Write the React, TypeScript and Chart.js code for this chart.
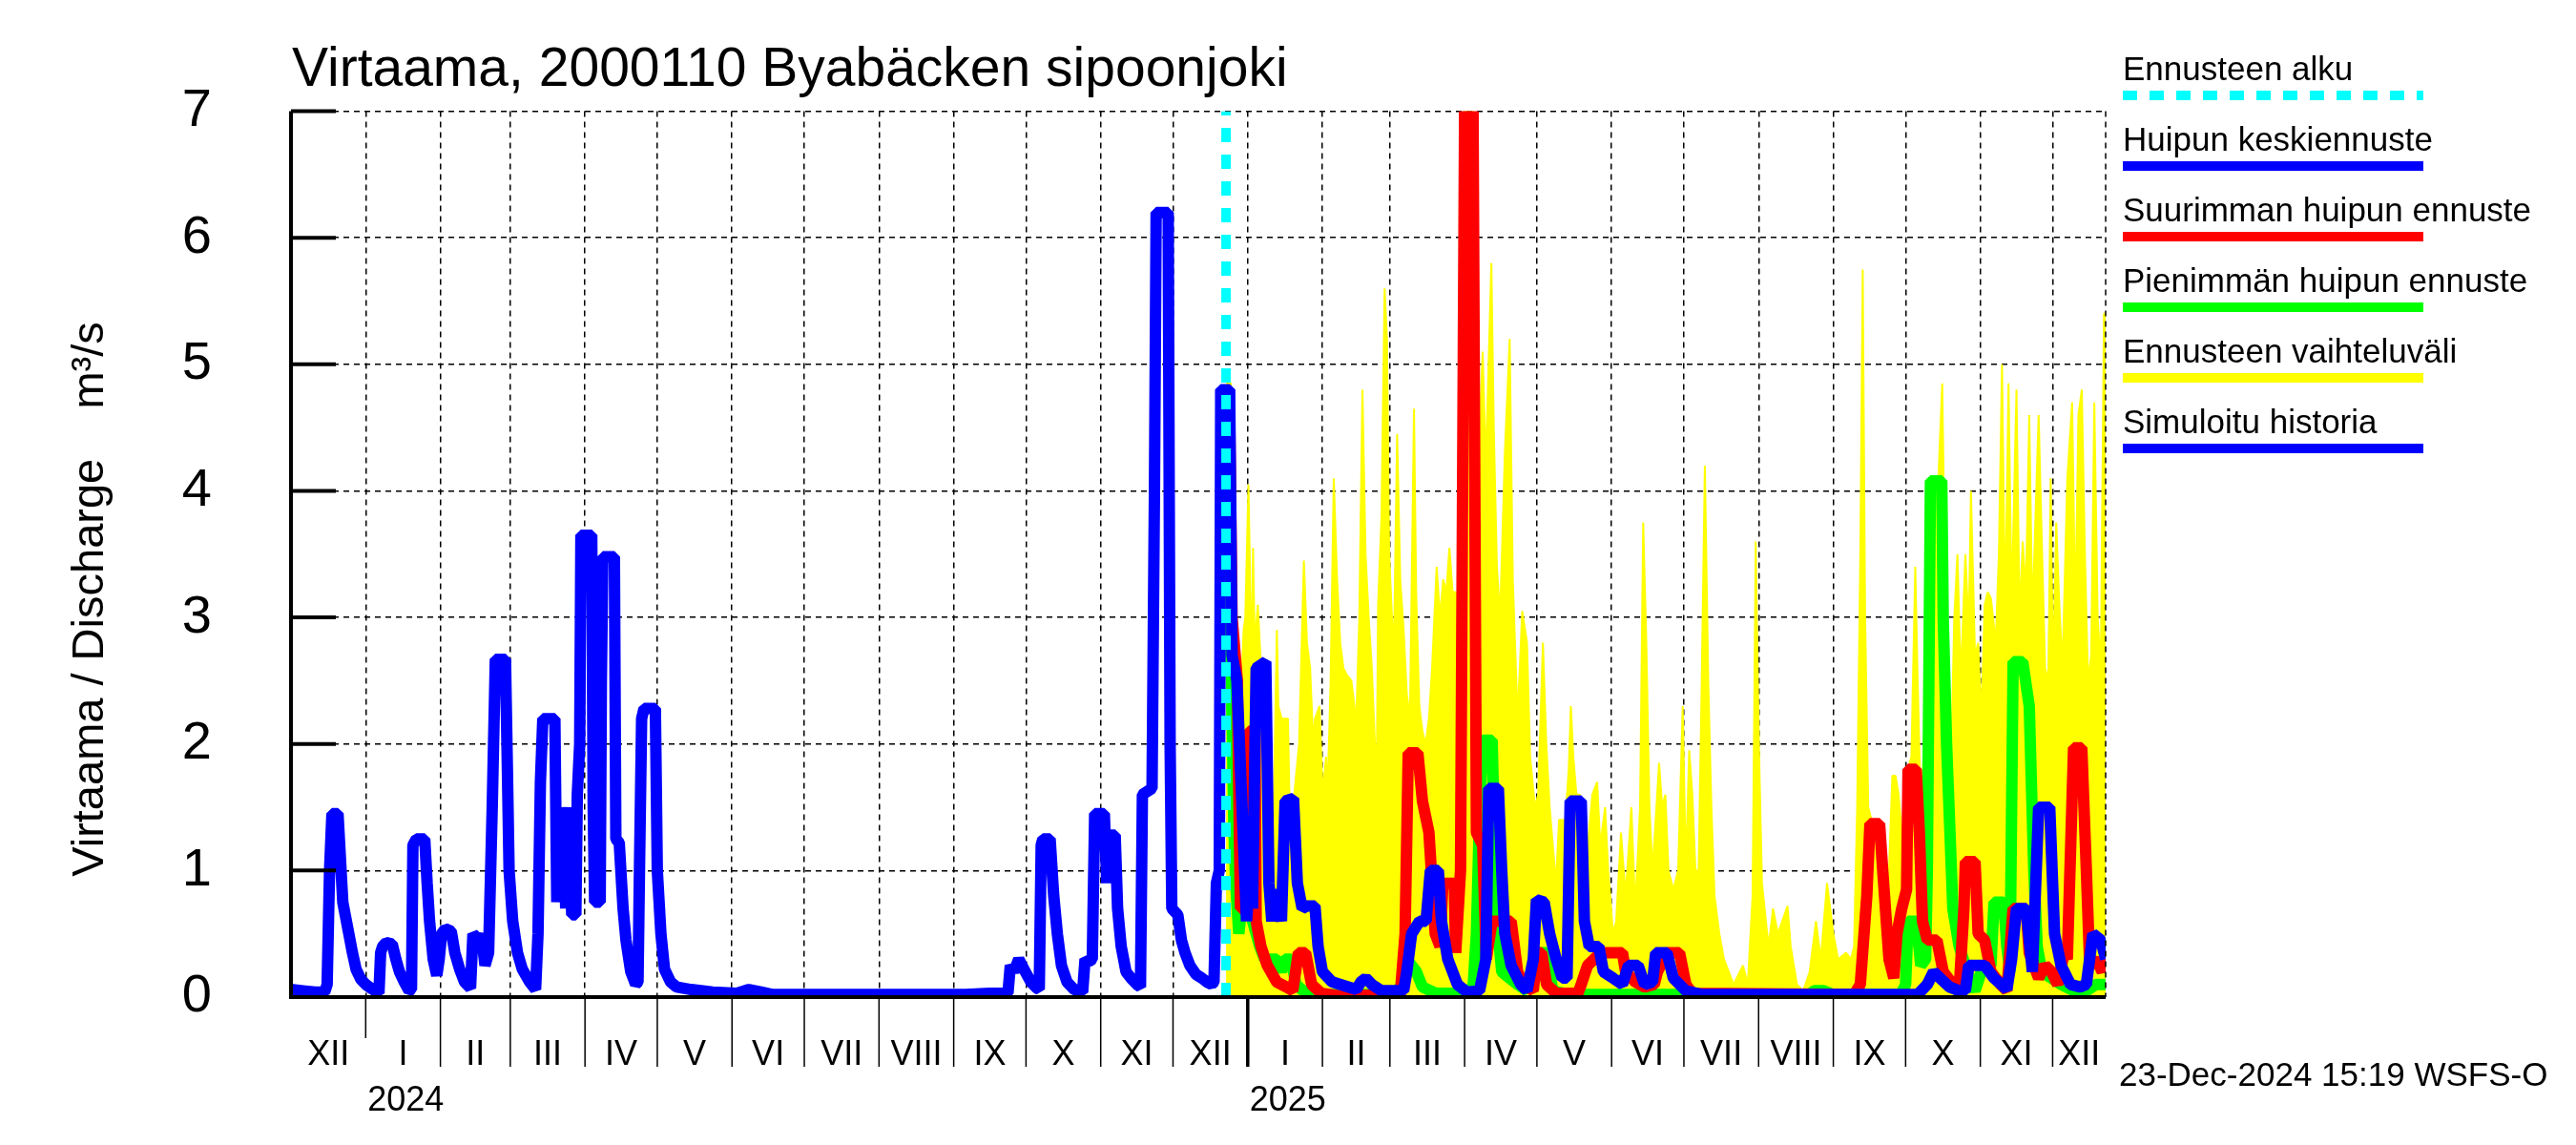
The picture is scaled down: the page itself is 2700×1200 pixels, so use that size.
import React, { useEffect, useRef } from 'react';
import { Chart, registerables } from 'chart.js';

Chart.register(...registerables);

const FONT = '"Liberation Sans", Arial, Helvetica, sans-serif';

// x values are days counted from 1 Dec 2023
const axisStart = 0;
const axisEnd = 753;
const forecastStart = 388;
const monthStarts = [31, 62, 91, 122, 152, 183, 213, 244, 275, 305, 336, 366, 397, 428, 456, 487, 517, 548, 578, 609, 640, 670, 701, 731];
const monthLabels = ['XII', 'I', 'II', 'III', 'IV', 'V', 'VI', 'VII', 'VIII', 'IX', 'X', 'XI', 'XII', 'I', 'II', 'III', 'IV', 'V', 'VI', 'VII', 'VIII', 'IX', 'X', 'XI', 'XII'];
const yearStarts = [31, 397];
const yearLabels = ['2024', '2025'];
const yTicks = [0, 1, 2, 3, 4, 5, 6, 7];

const titleText = 'Virtaama, 2000110 Byabäcken sipoonjoki';
const yTitleText = 'Virtaama / Discharge    m³/s';
const footerText = '23-Dec-2024 15:19 WSFS-O';
const legendLabels = ['Ennusteen alku', 'Huipun keskiennuste', 'Suurimman huipun ennuste', 'Pienimmän huipun ennuste', 'Ennusteen vaihteluväli', 'Simuloitu historia'];
const legendColors = ['#00ffff', '#0000ff', '#ff0000', '#00ff00', '#ffff00', '#0000ff'];

// Simuloitu historia
const history: [number, number][] = [
  [0, 0.06], [5, 0.05], [10, 0.04], [14, 0.04], [15, 0.1], [16, 1.0], [17, 1.45], [19.5, 1.45], [20.5, 1.1], [21.5, 0.75],
  [22.5, 0.65], [24, 0.5], [25.5, 0.35], [27, 0.22], [29, 0.14], [31, 0.1], [34, 0.06], [36.5, 0.03], [37.2, 0.35], [38, 0.4],
  [39.5, 0.43], [42, 0.42], [43.5, 0.3], [45, 0.2], [47, 0.12], [49, 0.05], [50, 0.06], [50.6, 1.2], [52, 1.25], [55.5, 1.25],
  [56.5, 0.9], [57.5, 0.6], [59, 0.3], [60.5, 0.17], [61.5, 0.3], [62.5, 0.5], [64, 0.54], [66.5, 0.52], [68, 0.35], [70, 0.22],
  [72, 0.12], [74.5, 0.07], [75.5, 0.5], [78, 0.45], [79, 0.5], [80.5, 0.25], [82, 0.35], [83.5, 1.5], [84.8, 2.67], [89, 2.67],
  [89.8, 1.8], [90.5, 1.0], [92, 0.6], [94, 0.35], [96, 0.22], [99, 0.12], [101.5, 0.06], [102.5, 0.5], [103.5, 1.7], [104.5, 2.2],
  [109.5, 2.2], [110.3, 0.75], [111, 1.5], [112, 0.75], [113, 1.5], [114, 0.7], [115.3, 1.5], [116.5, 0.65], [118.2, 0.65], [118.8, 1.6],
  [119.8, 2.0], [120.3, 3.65], [124.8, 3.65], [125.4, 1.5], [126, 0.75], [128.3, 0.75], [128.8, 2.5], [129.4, 3.48], [134.2, 3.48], [134.8, 1.25],
  [136.2, 1.22], [137.8, 0.7], [139, 0.45], [141, 0.2], [143, 0.1], [144, 0.12], [144.6, 1.0], [145.5, 2.2], [146.5, 2.28], [151.2, 2.28],
  [152, 1.0], [153.5, 0.5], [155, 0.22], [157.5, 0.12], [160, 0.08], [166, 0.06], [175, 0.04], [185, 0.03], [190, 0.06], [195, 0.04],
  [200, 0.02], [240, 0.02], [280, 0.02], [290, 0.03], [297.5, 0.03], [298.5, 0.25], [300, 0.2], [302, 0.3], [304.7, 0.2], [307, 0.12],
  [309.5, 0.07], [310.5, 0.06], [311.3, 1.2], [312, 1.25], [315, 1.25], [316.5, 0.8], [318, 0.5], [319.7, 0.25], [322, 0.12], [325, 0.06],
  [328.5, 0.04], [329.5, 0.3], [331, 0.28], [332.5, 0.3], [333.5, 1.45], [337.5, 1.45], [338.5, 0.9], [339.2, 1.28], [342, 1.28], [343, 0.7],
  [344.5, 0.4], [346.5, 0.2], [349, 0.14], [351, 0.1], [352.5, 0.08], [353.3, 1.6], [357.3, 1.65], [358.3, 4.0], [359, 6.2], [364, 6.2],
  [364.8, 2.0], [365.5, 0.7], [368, 0.65], [369.5, 0.45], [371, 0.35], [373, 0.25], [375.5, 0.18], [378, 0.15], [380, 0.12], [382, 0.1],
  [383, 0.12], [384, 0.9], [385.2, 1.0], [385.8, 4.8], [388, 4.8],
];

// Huipun keskiennuste
const meanForecast: [number, number][] = [
  [388, 4.8], [389.5, 4.8], [390.5, 2.7], [392.5, 2.5], [394, 1.8], [395.3, 1.2], [396.5, 0.6], [398, 1.0], [399, 0.7], [400.5, 2.6],
  [404.5, 2.65], [405.8, 0.9], [407, 0.6], [408.5, 0.85], [411, 0.6], [412.5, 1.55], [416, 1.57], [417.6, 0.9], [419.6, 0.7], [421.5, 0.72],
  [424.9, 0.72], [426.2, 0.4], [428, 0.2], [432, 0.12], [435.4, 0.1], [442, 0.06], [444, 0.12], [446, 0.15], [448.5, 0.1], [452.5, 0.05],
  [461.7, 0.05], [463, 0.2], [465, 0.5], [468.3, 0.6], [471, 0.6], [472.8, 1.0], [476.1, 1.0], [477.4, 0.6], [480, 0.3], [484, 0.1],
  [487.9, 0.04], [493.2, 0.05], [495.8, 0.3], [497, 1.65], [501, 1.65], [502.4, 1.0], [503.7, 0.5], [506.3, 0.25], [510.3, 0.1], [512.9, 0.05],
  [515.5, 0.3], [516.8, 0.77], [520, 0.75], [522.3, 0.5], [525, 0.3], [527.5, 0.15], [529.5, 0.15], [530.8, 1.55], [535.4, 1.55], [536.7, 0.6],
  [538.7, 0.4], [542.7, 0.4], [544.6, 0.2], [548.6, 0.15], [552.5, 0.1], [555, 0.25], [559, 0.25], [561.7, 0.1], [565, 0.12], [566.3, 0.35],
  [571, 0.35], [573.6, 0.15], [578.8, 0.05], [585.4, 0.02], [675, 0.02], [679, 0.1], [681.6, 0.2], [684.3, 0.15], [688.2, 0.08], [692.2, 0.05],
  [694.8, 0.05], [696.2, 0.25], [702.8, 0.25], [706.7, 0.15], [712, 0.06], [714, 0.3], [716, 0.7], [720, 0.7], [722.6, 0.2], [725.2, 1.5],
  [729.8, 1.5], [731.8, 0.5], [734.5, 0.25], [738.4, 0.1], [742.4, 0.08], [745, 0.1], [747.7, 0.5], [751, 0.45], [753, 0.3],
];

// Suurimman huipun ennuste
const maxForecast: [number, number][] = [
  [388, 4.8], [389.5, 4.6], [390.5, 3.0], [392.7, 2.5], [393.3, 1.6], [394, 0.7], [396.6, 0.7], [397.3, 2.1], [400, 2.1], [400.5, 0.6],
  [402.5, 0.4], [405.1, 0.25], [409, 0.12], [413, 0.08], [415.7, 0.05], [418, 0.35], [421, 0.35], [423.5, 0.1], [427.5, 0.03], [435, 0.01],
  [460.3, 0.02], [462.3, 0.5], [463.6, 1.93], [467.6, 1.93], [469.5, 1.55], [472.2, 1.3], [473.5, 0.9], [474.8, 0.5], [476.8, 0.4], [478, 0.9],
  [482.7, 0.9], [483.3, 0.35], [485.3, 1.0], [487, 7.0], [490.5, 7.0], [491.9, 1.3], [494.5, 1.2], [496, 0.3], [498.4, 0.6], [506.3, 0.6],
  [509, 0.2], [511.6, 0.1], [515.5, 0.05], [517, 0.35], [519, 0.35], [521, 0.1], [525, 0.03], [534, 0.03], [535.4, 0.1], [538, 0.25],
  [540.7, 0.3], [543.3, 0.35], [552.5, 0.35], [553.8, 0.2], [557.8, 0.12], [561.7, 0.08], [565.7, 0.1], [567, 0.2], [571, 0.35], [576.2, 0.35],
  [578.8, 0.1], [581.5, 0.03], [648.6, 0.02], [651.2, 0.1], [653.9, 0.8], [655.2, 1.37], [659.2, 1.37], [660.5, 1.0], [663.1, 0.3], [665.1, 0.15],
  [666.4, 0.5], [668.4, 0.7], [670.4, 0.85], [671, 1.8], [674.4, 1.8], [675.7, 1.3], [677, 0.6], [679, 0.45], [683, 0.45], [685.6, 0.2],
  [689.6, 0.1], [692.2, 0.05], [694.2, 0.7], [694.8, 1.07], [698.8, 1.07], [700.1, 0.5], [702.8, 0.45], [705.4, 0.2], [709.4, 0.1], [712, 0.05],
  [714.6, 0.7], [720, 0.7], [721.3, 0.35], [725.2, 0.15], [727.9, 0.25], [730.5, 0.2], [733.1, 0.1], [735.8, 0.35], [737.1, 0.3], [739.7, 1.97],
  [743.1, 1.97], [745, 1.0], [746.4, 0.25], [749, 0.3], [751.6, 0.2], [753, 0.35],
];

// Pienimmän huipun ennuste
const minForecast: [number, number][] = [
  [388, 4.8], [389.5, 4.6], [390, 2.7], [390.7, 2.0], [391.3, 1.3], [392, 0.9], [393.3, 0.5], [395, 0.8], [396, 1.65], [397, 1.65],
  [398, 0.9], [399, 0.6], [400.5, 0.5], [402, 0.4], [404, 0.3], [409, 0.3], [411, 0.2], [412.4, 0.3], [415, 0.3], [417, 0.1],
  [420, 0.05], [430, 0.02], [458, 0.02], [461, 0.1], [463, 0.3], [467, 0.2], [469.5, 0.08], [475, 0.03], [489, 0.03], [490.6, 0.1],
  [491.9, 0.5], [493, 1.3], [494.5, 2.03], [498.4, 2.03], [499.8, 1.0], [501, 0.5], [502.4, 0.2], [509, 0.1], [512.9, 0.05], [515, 0.2],
  [517, 0.35], [521, 0.35], [523.6, 0.05], [530, 0.02], [630, 0.02], [632, 0.05], [636, 0.05], [640, 0.02], [668, 0.02], [670, 0.1],
  [671, 0.6], [674.4, 0.6], [676.3, 0.25], [678.3, 0.3], [679, 1.0], [680.3, 4.08], [685, 4.08], [685.6, 3.0], [687, 2.0], [689.6, 0.7],
  [692.2, 0.4], [694.8, 0.25], [697.5, 0.1], [698.8, 0.05], [701.4, 0.2], [702.8, 0.25], [705.4, 0.25], [706.7, 0.75], [710.7, 0.75], [712, 0.4],
  [713.3, 0.2], [714.6, 2.65], [718.6, 2.65], [721.3, 2.3], [723.2, 1.0], [724.6, 0.4], [726.5, 0.2], [730.5, 0.15], [734.5, 0.1], [739.7, 0.05],
  [745, 0.05], [749, 0.1], [753, 0.1],
];

// Ennusteen vaihteluväli (upper edge, filled down to zero)
const rangeUpper: [number, number][] = [
  [388, 4.85], [390, 4.85], [391.3, 3.55], [393.3, 2.0], [395.3, 2.9], [396, 3.0], [397.3, 4.05], [397.9, 3.4], [398.6, 2.5], [399.2, 3.55],
  [399.9, 2.8], [401.2, 3.1], [402.5, 2.6], [403.8, 1.8], [406.5, 1.7], [407.8, 1.5], [409.1, 2.9], [409.7, 2.3], [411.1, 2.2], [413.7, 2.2],
  [414.3, 1.6], [416.3, 1.6], [418.3, 2.0], [420.3, 3.45], [421.6, 2.8], [422.9, 2.6], [424.2, 2.0], [424.9, 2.2], [426.8, 2.3], [428.1, 1.6],
  [429.5, 1.9], [430.1, 1.6], [431.4, 2.5], [432.7, 4.1], [434.1, 3.3], [435.4, 2.8], [436.7, 2.6], [438, 2.55], [440, 2.5], [441.3, 2.3],
  [441.9, 2.1], [443.3, 3.0], [444.6, 4.8], [445.9, 3.5], [447.2, 3.0], [448.5, 2.6], [449.8, 2.0], [450.5, 1.7], [451.1, 3.1], [452.5, 3.8],
  [453.8, 5.6], [454.8, 5.2], [455.7, 3.5], [457.1, 2.9], [457.7, 2.8], [459, 4.45], [460.3, 3.3], [461.7, 2.9], [463, 2.4], [464.3, 2.2],
  [466, 4.65], [466.9, 3.2], [468.2, 2.3], [469.5, 2.1], [470.8, 2.0], [472.2, 2.2], [473.5, 2.6], [475.4, 3.4], [476.8, 3.0], [478.1, 3.3],
  [479.4, 3.2], [480.7, 3.55], [482, 3.2], [483.3, 3.2], [484.6, 3.0], [486, 3.1], [487, 7.0], [490.5, 7.0], [491.9, 5.5], [493.2, 4.5],
  [494.5, 5.1], [495.8, 4.2], [498.1, 5.8], [499.1, 4.5], [500.4, 3.4], [501.7, 3.0], [503.7, 4.3], [505.7, 5.2], [507, 3.3], [509, 2.2],
  [510.9, 3.05], [512.9, 2.8], [514.2, 1.9], [516.2, 1.5], [517.5, 1.6], [519.5, 2.8], [520.9, 2.0], [522.3, 1.5], [523.6, 1.2], [524.9, 0.9],
  [526.2, 1.4], [528.8, 1.4], [530.2, 1.8], [531.1, 2.3], [532.1, 1.9], [533.4, 1.6], [534.8, 1.6], [536.7, 0.9], [538.1, 1.2], [540, 1.6],
  [542, 1.7], [543.3, 1.2], [545.3, 1.5], [546.6, 1.0], [548.6, 0.5], [549.9, 0.6], [551.9, 1.3], [553.8, 0.8], [556.2, 1.5], [557.8, 0.7],
  [559.8, 1.5], [561.1, 3.75], [562.4, 2.8], [563.7, 1.5], [565, 1.0], [567.7, 1.85], [569, 1.5], [570.3, 1.6], [571.6, 1.0], [573.6, 0.85],
  [575.6, 1.0], [577.5, 2.3], [578.8, 1.0], [580.2, 1.95], [581.5, 1.6], [582.8, 1.0], [584.1, 1.0], [585.4, 2.5], [586.7, 4.2], [588.1, 2.5],
  [589.4, 1.5], [590.7, 0.8], [592.7, 0.5], [594.6, 0.3], [598.6, 0.1], [602.5, 0.25], [604.5, 0.1], [606.5, 0.8], [607.8, 3.6], [609.1, 2.0],
  [610.4, 0.9], [613.1, 0.4], [615, 0.7], [617, 0.5], [621, 0.72], [622.3, 0.4], [624.9, 0.1], [627.5, 0.05], [630.2, 0.2], [632.8, 0.6],
  [634.8, 0.3], [637.4, 0.9], [640, 0.5], [642, 0.3], [645.3, 0.35], [647.3, 0.3], [648.6, 0.4], [649.9, 1.5], [651.2, 3.5], [652.2, 5.75],
  [653.2, 3.0], [654.5, 1.5], [655.8, 1.4], [659.2, 1.4], [661.1, 0.9], [663.1, 1.0], [664.5, 1.75], [665.8, 1.75], [667.1, 1.6], [668.4, 1.3],
  [669.7, 1.0], [671, 1.8], [672.4, 1.9], [674, 3.4], [675, 2.5], [676.3, 1.5], [677.7, 2.0], [679, 2.9], [680.3, 4.1], [683.6, 4.1],
  [685.2, 4.85], [686.2, 3.5], [687.6, 2.2], [688.9, 1.9], [690.2, 3.0], [691.5, 3.5], [692.9, 2.5], [694.8, 3.5], [696.2, 2.9], [697.1, 4.0],
  [698.8, 2.7], [700.1, 2.8], [701.4, 2.2], [702.8, 3.1], [704.1, 3.2], [705.4, 3.15], [707.4, 2.8], [708.7, 3.5], [710, 5.0], [711.3, 3.0],
  [712.7, 4.85], [714, 3.1], [716, 4.8], [717.3, 3.0], [718.6, 3.6], [719.9, 3.2], [721.3, 4.6], [722.6, 3.0], [725.2, 4.6], [726.5, 3.6],
  [727.9, 2.6], [729.2, 2.5], [730.2, 4.1], [731.2, 2.5], [732.5, 3.75], [733.8, 3.1], [735.1, 2.6], [737.1, 4.1], [739.1, 4.7], [740.4, 3.0],
  [741.7, 4.6], [743.1, 4.8], [744.4, 3.5], [745.7, 2.5], [747, 2.7], [748.3, 4.7], [749.7, 3.0], [751, 2.6], [752.3, 5.4], [753, 5.4],
];

const forecastLine: [number, number][] = [[forecastStart, 0], [forecastStart, 7]];

const toXY = (arr: [number, number][]) => arr.map(([x, y]) => ({ x, y }));

export default function App() {
  const ref = useRef<HTMLCanvasElement | null>(null);

  useEffect(() => {
    document.body.style.margin = '0';
    const canvas = ref.current;
    if (!canvas) return;

    const overlay = {
      id: 'overlay',
      beforeDraw(chart: any) {
        const ctx = chart.ctx;
        ctx.save();
        ctx.fillStyle = '#ffffff';
        ctx.fillRect(0, 0, chart.width, chart.height);
        ctx.restore();
      },
      afterDraw(chart: any) {
        const ctx: CanvasRenderingContext2D = chart.ctx;
        const a = chart.chartArea;
        const xs = chart.scales.x;
        const ys = chart.scales.y;
        const line = (x1: number, y1: number, x2: number, y2: number) => {
          ctx.beginPath();
          ctx.moveTo(x1, y1);
          ctx.lineTo(x2, y2);
          ctx.stroke();
        };
        ctx.save();
        ctx.strokeStyle = '#000';
        ctx.fillStyle = '#000';

        // right dashed frame
        ctx.lineWidth = 1.5;
        ctx.setLineDash([6, 5]);
        line(a.right, a.top, a.right, a.bottom);
        ctx.setLineDash([]);

        // axes
        ctx.lineWidth = 4;
        line(a.left, a.top, a.left, a.bottom + 2);
        line(a.left - 2, a.bottom, a.right, a.bottom);
        // inner y ticks
        yTicks.forEach((v) => {
          const py = ys.getPixelForValue(v);
          line(a.left, py, a.left + 47, py);
        });

        // month separators below axis
        monthStarts.forEach((m) => {
          const px = xs.getPixelForValue(m);
          const yi = yearStarts.indexOf(m);
          ctx.lineWidth = yi === 1 ? 3.5 : 1.5;
          line(px, a.bottom, px, a.bottom + (yi === 0 ? 43 : 73));
        });

        // month labels
        ctx.font = `36px ${FONT}`;
        ctx.textAlign = 'center';
        ctx.textBaseline = 'middle';
        const bounds = [axisStart, ...monthStarts, axisEnd];
        monthLabels.forEach((lab, i) => {
          const c = (xs.getPixelForValue(bounds[i]) + xs.getPixelForValue(bounds[i + 1])) / 2;
          ctx.fillText(lab, c, 1106);
        });

        // year labels
        ctx.textAlign = 'left';
        yearLabels.forEach((lab, i) => {
          ctx.fillText(lab, xs.getPixelForValue(yearStarts[i]) + 2, 1154);
        });

        // title
        ctx.font = `57px ${FONT}`;
        ctx.textBaseline = 'alphabetic';
        ctx.fillText(titleText, 306, 90);

        // y title
        ctx.save();
        ctx.translate(95, 628);
        ctx.rotate(-Math.PI / 2);
        ctx.font = `47px ${FONT}`;
        ctx.textAlign = 'center';
        ctx.textBaseline = 'middle';
        ctx.fillText(yTitleText, 0, 0);
        ctx.restore();

        // legend
        ctx.font = `35px ${FONT}`;
        ctx.textAlign = 'left';
        ctx.textBaseline = 'middle';
        legendLabels.forEach((lab, i) => {
          const ty = 74 + i * 74;
          ctx.fillStyle = '#000';
          ctx.fillText(lab, 2225, ty);
          ctx.strokeStyle = legendColors[i];
          ctx.lineWidth = 10;
          ctx.setLineDash(i === 0 ? [15, 13] : []);
          line(2225, ty + 26, 2540, ty + 26);
        });
        ctx.setLineDash([]);

        // footer
        ctx.fillStyle = '#000';
        ctx.font = `35px ${FONT}`;
        ctx.fillText(footerText, 2221, 1128);
        ctx.restore();
      },
    };

    const lineDs = (label: string, data: [number, number][], color: string, order: number, width = 12) => ({
      label,
      data: toXY(data),
      borderColor: color,
      backgroundColor: color,
      borderWidth: width,
      pointRadius: 0,
      tension: 0,
      fill: false,
      order,
      borderJoinStyle: 'bevel' as const,
    });

    const chart = new Chart(canvas, {
      type: 'line',
      data: {
        datasets: [
          { ...lineDs('Ennusteen alku', forecastLine, '#00ffff', 0, 10), borderDash: [15, 13] },
          lineDs('Simuloitu historia', history, '#0000ff', 1),
          lineDs('Huipun keskiennuste', meanForecast, '#0000ff', 2),
          lineDs('Suurimman huipun ennuste', maxForecast, '#ff0000', 3),
          lineDs('Pienimmän huipun ennuste', minForecast, '#00ff00', 4),
          { ...lineDs('Ennusteen vaihteluväli', rangeUpper, '#ffff00', 5, 2), fill: 'origin' },
        ] as any,
      },
      options: {
        responsive: false,
        animation: false,
        devicePixelRatio: 1,
        layout: { padding: { left: 0, top: 115, right: 493, bottom: 0 } },
        plugins: { legend: { display: false }, tooltip: { enabled: false }, title: { display: false } },
        scales: {
          x: {
            type: 'linear',
            min: axisStart,
            max: axisEnd,
            afterBuildTicks: (scale: any) => {
              scale.ticks = monthStarts.map((v) => ({ value: v }));
            },
            afterFit: (scale: any) => {
              scale.height = 155;
            },
            ticks: { display: false },
            grid: { color: '#000', lineWidth: 1.5, drawTicks: false },
            border: { display: false, dash: [6, 5] },
          },
          y: {
            type: 'linear',
            min: 0,
            max: 7,
            afterFit: (scale: any) => {
              scale.width = 305;
            },
            ticks: { stepSize: 1, color: '#000', font: { family: FONT, size: 56 }, padding: 83 },
            grid: { color: '#000', lineWidth: 1.5, drawTicks: false },
            border: { display: false, dash: [6, 5] },
          },
        },
      } as any,
      plugins: [overlay],
    });

    return () => chart.destroy();
  }, []);

  return (
    <div style={{ width: 2700, height: 1200, background: '#fff' }}>
      <canvas ref={ref} width={2700} height={1200} style={{ width: 2700, height: 1200, display: 'block' }} />
    </div>
  );
}
